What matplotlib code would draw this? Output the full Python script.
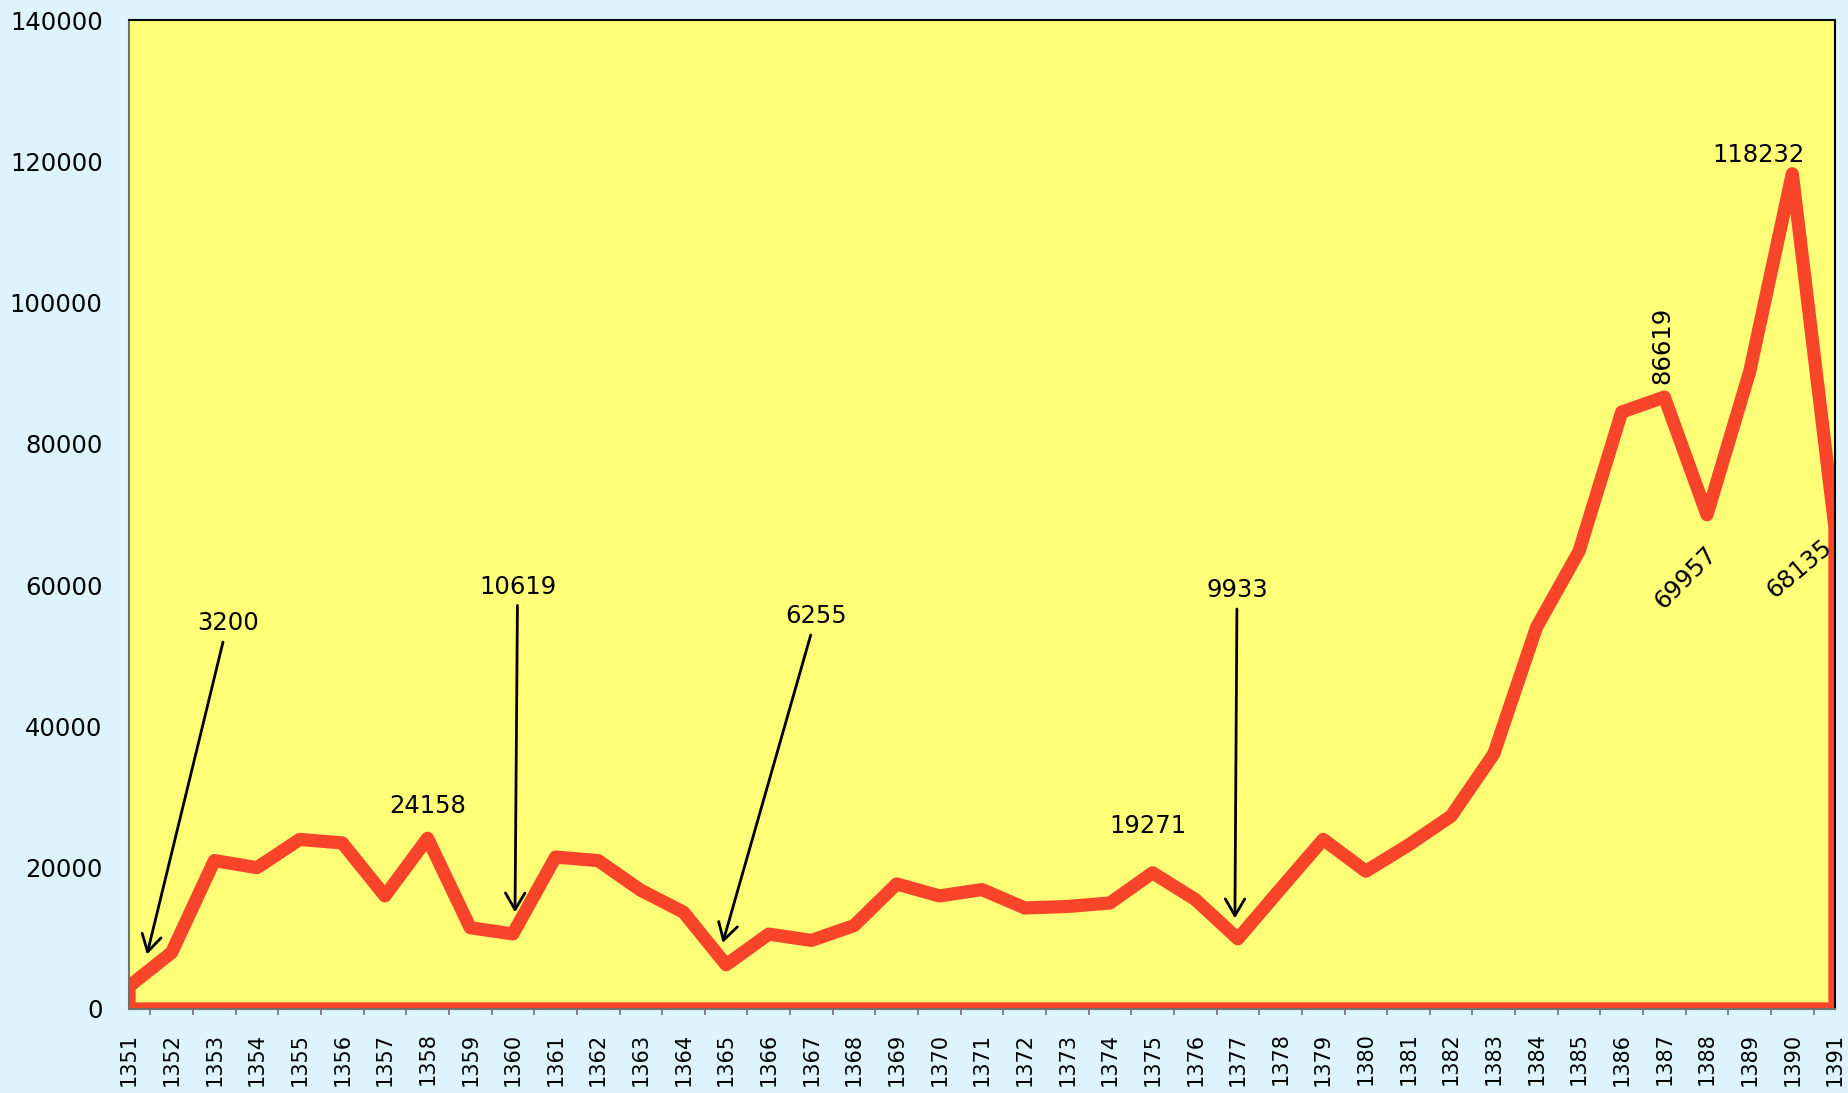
import numpy as np
import matplotlib.pyplot as plt

# ─── Data ──────────────────────────────────────────────────────────────────────
years = list(range(1351, 1392))
values = [3200, 8000, 21000, 20000, 24000, 23500, 16000, 24158, 11500, 10619,
          21500, 21000, 16800, 13700, 6255, 10600, 9700, 11800, 17700, 16000,
          16900, 14300, 14500, 15000, 19271, 15500, 9933, 17000, 24000, 19500,
          23200, 27300, 36100, 54000, 64800, 84500, 86619, 69957, 90200, 118232,
          68135]

# labels with arrows: (year, text, text x, text y, arrow x offset)
arrow_notes = [
    (1351, "3200", 1353.31, 54600, 0.42),
    (1360, "10619", 1360.11, 59800, 0.05),
    (1365, "6255", 1367.11, 55600, -0.08),
    (1377, "9933", 1376.98, 59300, -0.07),
]
# plain labels: (text, x, y, rotation)
plain_notes = [
    ("24158", 1358.01, 28700, 0),
    ("19271", 1374.90, 25900, 0),
    ("86619", 1386.96, 93900, 90),
    ("118232", 1389.20, 120950, 0),
    ("69957", 1387.51, 61000, 45),
    ("68135", 1390.17, 62300, 40),
]

BG = "#DDF4FD"
PLOT_BG = "#FFFF78"
RED = "#F8452A"
FS = 17.5

fig = plt.figure(figsize=(18.49, 10.93), dpi=100, facecolor=BG)
ax = fig.add_axes([0.0698, 0.0769, 0.9226, 0.9048])
ax.set_facecolor(PLOT_BG)

# area polygon closed along the base, thick red outline
px = [years[0]] + years + [years[-1]]
py = [0] + values + [0]
ax.fill(px, py, facecolor=PLOT_BG, edgecolor=RED, lw=9.5, joinstyle="round",
        zorder=2)

ax.set_xlim(years[0], years[-1])
ax.set_ylim(0, 140000)

# ─── Axes styling ──────────────────────────────────────────────────────────────
ax.set_yticks(np.arange(0, 140001, 20000))
ax.tick_params(axis="y", length=0, pad=19, labelsize=FS)

ax.set_xticks(years)
ax.set_xticklabels([str(y) for y in years], rotation=90, va="top")
ax.set_xticks([y + 0.5 for y in years[:-1]] + [years[-1]], minor=True)
ax.tick_params(axis="x", which="major", length=0, pad=17, labelsize=15)
ax.tick_params(axis="x", which="minor", length=4.5, width=1.2, color="#707070")

for side in ["left", "bottom"]:
    ax.spines[side].set_color("#707070")
    ax.spines[side].set_linewidth(1.5)
for side in ["top", "right"]:
    ax.spines[side].set_color("black")
    ax.spines[side].set_linewidth(1.5)

# ─── Annotations ───────────────────────────────────────────────────────────────
for year, txt, tx, ty, dx in arrow_notes:
    i = years.index(year)
    xa = year + dx
    j = i + 1 if dx > 0 else i - 1
    ya = values[i] + abs(dx) * (values[j] - values[i]) + 2500
    ax.annotate(txt, xy=(xa, ya), xytext=(tx, ty), fontsize=FS,
                ha="center", va="center", zorder=5,
                arrowprops=dict(arrowstyle="->,head_length=0.6,head_width=0.35",
                                mutation_scale=20, lw=2, color="black",
                                shrinkA=3, shrinkB=0))

for txt, tx, ty, rot in plain_notes:
    ax.text(tx, ty, txt, fontsize=FS, ha="center", va="center",
            rotation=rot, rotation_mode="anchor", zorder=5)

fig.savefig("out.png", dpi=100, facecolor=BG)
